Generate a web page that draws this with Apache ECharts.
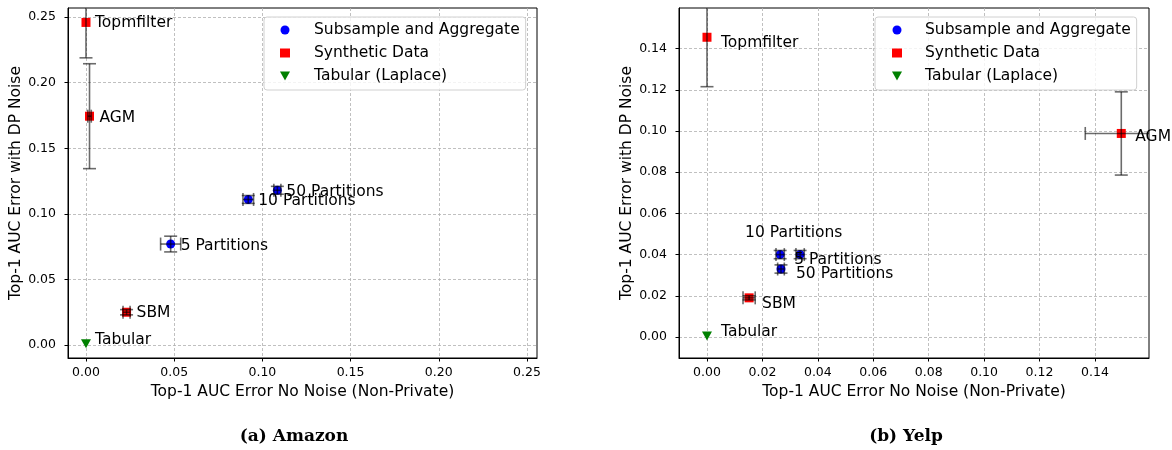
<!DOCTYPE html>
<html>
<head>
    <meta http-equiv="Content-Type" content="text/html; charset=utf-8">
    <title>Top-1 AUC Error</title>
    <script src="https://cdn.jsdelivr.net/npm/echarts@6/dist/echarts.min.js"></script>
    <style>
        body {margin:0; background:#fff;}
    </style>
</head>
<body>
    <div id="main" style="width: 1172px;height:450px;"></div>
    <script type="text/javascript">
        // ---- data ----
        // (a) Amazon
        var amazonSaNames = ['50 Partitions', '10 Partitions', '5 Partitions'];
        var amazonSaX = [0.1085, 0.092, 0.048];
        var amazonSaY = [0.118, 0.111, 0.077];
        var amazonSaXErr = [0.002, 0.003, 0.0057];
        var amazonSaYErr = [0.003, 0.003, 0.006];

        var amazonSynNames = ['Topmfilter', 'AGM', 'SBM'];
        var amazonSynX = [0.0, 0.002, 0.023];
        var amazonSynY = [0.246, 0.1745, 0.025];
        var amazonSynXErr = [0.0, 0.001, 0.002];
        var amazonSynYErr = [0.027, 0.040, 0.002];

        var amazonTabNames = ['Tabular'];
        var amazonTabX = [0.0];
        var amazonTabY = [0.001];

        var amazonXTicks = [0, 0.05, 0.10, 0.15, 0.20, 0.25];
        var amazonYTicks = [0, 0.05, 0.10, 0.15, 0.20, 0.25];

        // (b) Yelp
        var yelpSaNames = ['5 Partitions', '10 Partitions', '50 Partitions'];
        var yelpSaX = [0.0264, 0.0336, 0.0267];
        var yelpSaY = [0.040, 0.040, 0.033];
        var yelpSaXErr = [0.0015, 0.0015, 0.0012];
        var yelpSaYErr = [0.002, 0.002, 0.002];

        var yelpSynNames = ['Topmfilter', 'AGM', 'SBM'];
        var yelpSynX = [0.0, 0.1495, 0.0152];
        var yelpSynY = [0.1455, 0.0988, 0.019];
        var yelpSynXErr = [0.0, 0.013, 0.0022];
        var yelpSynYErr = [0.024, 0.0202, 0.001];

        var yelpTabNames = ['Tabular'];
        var yelpTabX = [0.0];
        var yelpTabY = [0.0005];

        var yelpXTicks = [0, 0.02, 0.04, 0.06, 0.08, 0.10, 0.12, 0.14];
        var yelpYTicks = [0, 0.02, 0.04, 0.06, 0.08, 0.10, 0.12, 0.14];

        // ---- label placement (pixels from point centre) ----
        var amazonLabelOffset = {
            '50 Partitions': [9, 2], '10 Partitions': [10, 2], '5 Partitions': [10, 2],
            'Topmfilter': [9, 1], 'AGM': [10, 2], 'SBM': [10, 1], 'Tabular': [9, -4]
        };
        var yelpLabelOffset = {
            '5 Partitions': [14, 5], '10 Partitions': [-55, -22], '50 Partitions': [15, 5],
            'Topmfilter': [14, 6], 'AGM': [14, 4], 'SBM': [13, 6], 'Tabular': [14, -4]
        };

        var FONT = 'DejaVu Sans';
        var triDown = 'path://M0,0L10,0L5,9Z';
        var errColor = 'rgba(0,0,0,0.58)';

        function points(names, xs, ys, offsets) {
            return names.map(function (n, i) {
                return {name: n, value: [xs[i], ys[i]], label: {offset: offsets[n]}};
            });
        }
        function errRows(xs, ys, xe, ye) {
            return xs.map(function (x, i) { return [x, ys[i], xe[i], ye[i]]; });
        }

        function renderErr(params, api) {
            var x = api.value(0), y = api.value(1), xe = api.value(2), ye = api.value(3);
            var cap = 6.5;
            var kids = [];
            var st = {stroke: errColor, lineWidth: 1.6};
            if (ye > 0) {
                var lo = api.coord([x, y - ye]), hi = api.coord([x, y + ye]);
                kids.push({type: 'line', shape: {x1: lo[0], y1: lo[1], x2: hi[0], y2: hi[1]}, style: st});
                kids.push({type: 'line', shape: {x1: lo[0] - cap, y1: lo[1], x2: lo[0] + cap, y2: lo[1]}, style: st});
                kids.push({type: 'line', shape: {x1: hi[0] - cap, y1: hi[1], x2: hi[0] + cap, y2: hi[1]}, style: st});
            }
            if (xe > 0) {
                var l = api.coord([x - xe, y]), r = api.coord([x + xe, y]);
                kids.push({type: 'line', shape: {x1: l[0], y1: l[1], x2: r[0], y2: r[1]}, style: st});
                kids.push({type: 'line', shape: {x1: l[0], y1: l[1] - cap, x2: l[0], y2: l[1] + cap}, style: st});
                kids.push({type: 'line', shape: {x1: r[0], y1: r[1] - cap, x2: r[0], y2: r[1] + cap}, style: st});
            }
            return {type: 'group', children: kids};
        }

        function xAxisCfg(idx, min, max, ticks) {
            return {
                type: 'value', gridIndex: idx, min: min, max: max, splitNumber: ticks.length,
                name: 'Top-1 AUC Error No Noise (Non-Private)', nameLocation: 'middle', nameGap: 25,
                nameTextStyle: {fontFamily: FONT, fontSize: 15.5, color: '#000'},
                axisLine: {show: true, onZero: false, lineStyle: {color: '#000', width: 1}},
                axisTick: {show: true, length: 3.5, customValues: ticks, lineStyle: {color: '#000'}},
                axisLabel: {customValues: ticks, margin: 8, fontFamily: FONT, fontSize: 12.5, color: '#000',
                            formatter: function (v) { return v.toFixed(2); }},
                splitLine: {show: true, lineStyle: {color: '#b0b0b0', type: [3, 2], width: 0.8}}
            };
        }
        function yAxisCfg(idx, min, max, ticks) {
            return {
                type: 'value', gridIndex: idx, min: min, max: max, splitNumber: ticks.length,
                name: 'Top-1 AUC Error with DP Noise', nameLocation: 'middle', nameGap: 42,
                nameTextStyle: {fontFamily: FONT, fontSize: 15.5, color: '#000'},
                axisLine: {show: true, onZero: false, lineStyle: {color: '#000', width: 1}},
                axisTick: {show: true, length: 3.5, customValues: ticks, lineStyle: {color: '#000'}},
                axisLabel: {customValues: ticks, margin: 12, fontFamily: FONT, fontSize: 12.5, color: '#000',
                            formatter: function (v) { return v.toFixed(2); }},
                splitLine: {show: true, lineStyle: {color: '#b0b0b0', type: [3, 2], width: 0.8}}
            };
        }

        var labelCfg = {show: true, position: 'inside', align: 'left', verticalAlign: 'middle',
                        formatter: '{b}', color: '#000', fontFamily: FONT, fontSize: 15.5};

        function chartSeries(idx, d) {
            return [
                {name: 'Subsample and Aggregate', type: 'scatter', xAxisIndex: idx, yAxisIndex: idx,
                 symbol: 'circle', symbolSize: 9, itemStyle: {color: '#0000ff', opacity: 1},
                 label: labelCfg, data: d.sa, z: 2},
                {name: 'Synthetic Data', type: 'scatter', xAxisIndex: idx, yAxisIndex: idx,
                 symbol: 'rect', symbolSize: 9, itemStyle: {color: '#ff0000', opacity: 1},
                 label: labelCfg, data: d.syn, z: 2},
                {name: 'Tabular (Laplace)', type: 'scatter', xAxisIndex: idx, yAxisIndex: idx,
                 symbol: triDown, symbolSize: [10, 9], itemStyle: {color: '#008000', opacity: 1},
                 label: labelCfg, data: d.tab, z: 2},
                {name: 'err' + idx, type: 'custom', xAxisIndex: idx, yAxisIndex: idx, silent: true,
                 clip: true, renderItem: renderErr, encode: {x: 0, y: 1}, data: d.err, z: 3}
            ];
        }

        function legendCfg(left, padLeft, textPad) {
            return {
                orient: 'vertical', left: left, top: 17, selectedMode: false,
                itemWidth: 10, itemHeight: 9, itemGap: 5,
                padding: [4, 6, 5, padLeft],
                backgroundColor: 'rgba(255,255,255,0.8)', borderColor: '#d0d0d0', borderWidth: 1, borderRadius: 3,
                textStyle: {fontFamily: FONT, fontSize: 15.5, color: '#000', lineHeight: 18, padding: [0, 0, 0, textPad]},
                data: [
                    {name: 'Subsample and Aggregate', icon: 'circle'},
                    {name: 'Synthetic Data', icon: 'rect'},
                    {name: 'Tabular (Laplace)', icon: triDown}
                ]
            };
        }

        var amazon = {
            sa: points(amazonSaNames, amazonSaX, amazonSaY, amazonLabelOffset),
            syn: points(amazonSynNames, amazonSynX, amazonSynY, amazonLabelOffset),
            tab: points(amazonTabNames, amazonTabX, amazonTabY, amazonLabelOffset),
            err: errRows(amazonSaX, amazonSaY, amazonSaXErr, amazonSaYErr)
                .concat(errRows(amazonSynX, amazonSynY, amazonSynXErr, amazonSynYErr))
        };
        var yelp = {
            sa: points(yelpSaNames, yelpSaX, yelpSaY, yelpLabelOffset),
            syn: points(yelpSynNames, yelpSynX, yelpSynY, yelpLabelOffset),
            tab: points(yelpTabNames, yelpTabX, yelpTabY, yelpLabelOffset),
            err: errRows(yelpSaX, yelpSaY, yelpSaXErr, yelpSaYErr)
                .concat(errRows(yelpSynX, yelpSynY, yelpSynXErr, yelpSynYErr))
        };

        var myChart = echarts.init(document.getElementById('main'), null, {renderer: 'canvas'});
        var option = {
            backgroundColor: '#fff',
            animation: false,
            grid: [
                {left: 68, top: 8, width: 469, height: 350, show: true, borderColor: '#000', borderWidth: 1},
                {left: 679, top: 8, width: 470, height: 350, show: true, borderColor: '#000', borderWidth: 1}
            ],
            xAxis: [
                xAxisCfg(0, -0.0102, 0.2557, amazonXTicks),
                xAxisCfg(1, -0.0101, 0.1595, yelpXTicks)
            ],
            yAxis: [
                yAxisCfg(0, -0.0099, 0.257, amazonYTicks),
                yAxisCfg(1, -0.0102, 0.1597, yelpYTicks)
            ],
            legend: [legendCfg(264, 16, 19), legendCfg(875, 17, 18)],
            graphic: [
                {type: 'text', x: 294, y: 437, style: {text: '(a) Amazon', font: 'bold 17px "DejaVu Serif"',
                 fill: '#000', align: 'center', verticalAlign: 'middle'}},
                {type: 'text', x: 906, y: 437, style: {text: '(b) Yelp', font: 'bold 17px "DejaVu Serif"',
                 fill: '#000', align: 'center', verticalAlign: 'middle'}}
            ],
            series: chartSeries(0, amazon).concat(chartSeries(1, yelp))
        };
        myChart.setOption(option);
    </script>
</body>
</html>
